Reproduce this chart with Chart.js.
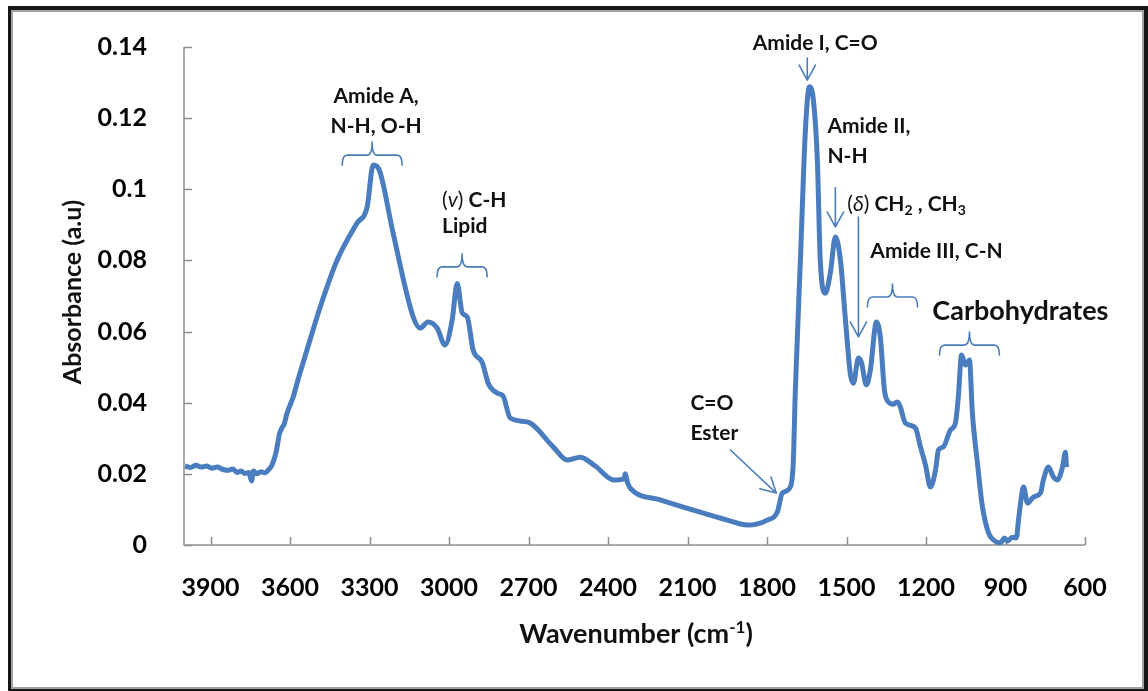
<!DOCTYPE html>
<html>
<head>
<meta charset="utf-8">
<script src="https://cdn.jsdelivr.net/npm/chart.js@4.4.1/dist/chart.umd.min.js"></script>
<style>
  html, body { margin: 0; padding: 0; background: #fff; }
  #wrap { position: relative; width: 1148px; height: 691px; overflow: hidden; }
  #frame {
    position: absolute; left: 8px; top: 6px; width: 1140px; height: 685px;
    box-sizing: border-box; border-style: solid; border-color: #161616;
    border-width: 4px 4px 2px 3px; box-shadow: inset 0 0 0 2px #a3a3a3;
  }
  #c { position: absolute; left: 0; top: 0; }
</style>
</head>
<body>
<div id="wrap"><div id="frame"></div><canvas id="c" width="1148" height="691"></canvas></div>
<script>
// FTIR spectrum: wavenumber (cm-1) and absorbance (a.u)
const wavenumbers = [
  3996, 3975, 3955, 3935, 3915, 3895, 3875, 3855, 3835, 3815, 3800, 3785, 3770, 3755, 3745, 3738,
  3725, 3710, 3695, 3683, 3668, 3652, 3640, 3630, 3622, 3611, 3588, 3570, 3536, 3486, 3422, 3347,
  3309, 3286, 3262, 3211, 3135, 3109, 3079, 3045, 3015, 2988, 2969, 2950, 2931, 2909, 2875, 2852,
  2818, 2796, 2769, 2705, 2607, 2554, 2505, 2448, 2380, 2339, 2335, 2327, 2316, 2203, 2078, 1950,
  1874, 1799, 1761, 1742, 1712, 1701, 1693, 1674, 1655, 1640, 1625, 1610, 1599, 1580, 1561, 1542,
  1523, 1504, 1485, 1474, 1455, 1444, 1425, 1410, 1387, 1372, 1357, 1342, 1323, 1308, 1297, 1278,
  1240, 1221, 1202, 1183, 1164, 1153, 1134, 1108, 1089, 1078, 1066, 1051, 1036, 1025, 1006, 987,
  964, 945, 919, 904, 893, 874, 859, 851, 836, 832, 817, 794, 768, 757, 738, 719,
  704, 685, 674, 670
];
const absorbance = [
  0.0222, 0.0218, 0.0224, 0.0219, 0.0222, 0.0216, 0.0219, 0.0213, 0.0210, 0.0214, 0.0204, 0.0208, 0.0201, 0.0204, 0.0180, 0.0208,
  0.0200, 0.0206, 0.0203, 0.0210, 0.0225, 0.0262, 0.0312, 0.0330, 0.0340, 0.0371, 0.0416, 0.0464, 0.0548, 0.0669, 0.0801, 0.0905,
  0.0950, 0.1068, 0.1052, 0.0877, 0.0641, 0.0610, 0.0627, 0.0610, 0.0562, 0.0633, 0.0735, 0.0652, 0.0641, 0.0548, 0.0514, 0.0455,
  0.0427, 0.0419, 0.0357, 0.0346, 0.0276, 0.0239, 0.0247, 0.0222, 0.0183, 0.0186, 0.0200, 0.0177, 0.0160, 0.0127, 0.0098, 0.0070,
  0.0056, 0.0070, 0.0093, 0.0146, 0.0163, 0.0231, 0.0436, 0.0801, 0.1167, 0.1288, 0.1251, 0.1082, 0.0801, 0.0708, 0.0765, 0.0866,
  0.0801, 0.0633, 0.0478, 0.0455, 0.0526, 0.0514, 0.0450, 0.0492, 0.0627, 0.0582, 0.0436, 0.0402, 0.0396, 0.0402, 0.0388, 0.0343,
  0.0329, 0.0276, 0.0225, 0.0163, 0.0211, 0.0267, 0.0276, 0.0323, 0.0343, 0.0416, 0.0534, 0.0506, 0.0520, 0.0371, 0.0231, 0.0107,
  0.0034, 0.0014, 0.0006, 0.0020, 0.0011, 0.0022, 0.0020, 0.0070, 0.0155, 0.0163, 0.0118, 0.0135, 0.0146, 0.0183, 0.0219, 0.0191,
  0.0183, 0.0219, 0.0261, 0.0219
];
const xTickValues = [3900, 3600, 3300, 3000, 2700, 2400, 2100, 1800, 1500, 1200, 900, 600];
const yTickValues = [0, 0.02, 0.04, 0.06, 0.08, 0.1, 0.12, 0.14];

const LINE_BLUE = '#4a7dbf';
const NOTE_BLUE = '#4a7ebb';
const FONT = 'Lato, "Open Sans", sans-serif';

// Band assignments: text anchored in (wavenumber, absorbance) space
const notes = [
  { w: 3275, v: 0.1243, align: 'center', parts: [['Amide A,', 'b']] },
  { w: 3275, v: 0.1158, align: 'center', parts: [['N-H, O-H', 'b']] },
  { w: 3026, v: 0.0950, align: 'left', parts: [['(', 'n'], ['v', 'i'], [')', 'n'], [' C-H', 'b']] },
  { w: 3026, v: 0.0877, align: 'left', parts: [['Lipid', 'b']] },
  { w: 1618, v: 0.1392, align: 'center', parts: [['Amide I, C=O', 'b']] },
  { w: 1572, v: 0.1158, align: 'left', parts: [['Amide II,', 'b']] },
  { w: 1572, v: 0.1074, align: 'left', parts: [['N-H', 'b']] },
  { w: 1497, v: 0.0939, align: 'left', parts: [['(', 'n'], ['δ', 'i'], [')', 'n'], [' CH', 'b'], ['2', 'bs'], [' , CH', 'b'], ['3', 'bs']] },
  { w: 1410, v: 0.0807, align: 'left', parts: [['Amide III, C-N', 'b']] },
  { w: 1176, v: 0.0633, align: 'left', size: 27, parts: [['Carbohydrates', 'b']] },
  { w: 2089, v: 0.0380, align: 'left', parts: [['C=O', 'b']] },
  { w: 2089, v: 0.0295, align: 'left', parts: [['Ester', 'b']] }
];
const braces = [
  { from: 3403, to: 3177, v: 0.1096 },
  { from: 3045, to: 2856, v: 0.0782 },
  { from: 1421, to: 1232, v: 0.0697 },
  { from: 1149, to: 923, v: 0.0562 }
];
const arrows = [
  { w1: 1648, v1: 0.1369, w2: 1648, v2: 0.1307 },
  { w1: 1542, v1: 0.1004, w2: 1542, v2: 0.0894 },
  { w1: 1455, v1: 0.0922, w2: 1455, v2: 0.0585 },
  { w1: 1938, v1: 0.0267, w2: 1765, v2: 0.0146 }
];

function drawRich(ctx, parts, x, y, align, size) {
  const fontFor = s => ({
    b: `bold ${size}px ${FONT}`,
    n: `${size}px ${FONT}`,
    i: `italic ${size}px ${FONT}`,
    bs: `bold ${Math.round(size * 0.66)}px ${FONT}`
  })[s];
  let total = 0;
  parts.forEach(p => { ctx.font = fontFor(p[1]); total += ctx.measureText(p[0]).width; });
  let cx = align === 'center' ? x - total / 2 : x;
  ctx.textAlign = 'left';
  ctx.textBaseline = 'alphabetic';
  parts.forEach(p => {
    ctx.font = fontFor(p[1]);
    const dy = p[1] === 'bs' ? size * 0.2 : 0;
    ctx.fillText(p[0], cx, y + dy);
    cx += ctx.measureText(p[0]).width;
  });
  return total;
}

// Axis lines with inward tick marks
const axesPlugin = {
  id: 'axesInside',
  beforeDatasetsDraw(chart) {
    const { ctx, chartArea: a, scales: { x, y } } = chart;
    ctx.save();
    ctx.strokeStyle = '#8e8e8e';
    ctx.lineWidth = 1.5;
    ctx.beginPath();
    ctx.moveTo(a.left, a.top);
    ctx.lineTo(a.left, a.bottom);
    ctx.lineTo(a.right, a.bottom);
    yTickValues.forEach(v => {
      const py = Math.round(y.getPixelForValue(v)) + 0.5;
      ctx.moveTo(a.left, py); ctx.lineTo(a.left + 8, py);
    });
    xTickValues.forEach(v => {
      const px = Math.round(x.getPixelForValue(v)) + 0.5;
      ctx.moveTo(px, a.bottom); ctx.lineTo(px, a.bottom - 8);
    });
    ctx.stroke();
    ctx.restore();
  }
};

// Axis titles and band assignments
const notesPlugin = {
  id: 'bandNotes',
  afterDraw(chart) {
    const { ctx, chartArea: a, scales: { x, y } } = chart;
    ctx.save();
    ctx.fillStyle = '#111';

    // y title
    ctx.save();
    ctx.translate(73, 292);
    ctx.rotate(-Math.PI / 2);
    ctx.font = `bold 25px ${FONT}`;
    ctx.textAlign = 'center';
    ctx.textBaseline = 'middle';
    ctx.fillText('Absorbance (a.u)', 0, 0);
    ctx.restore();

    // x title with superscript
    {
      const size = 27;
      const main = 'Wavenumber (cm';
      const sup = '-1';
      ctx.font = `bold ${size}px ${FONT}`;
      const w1 = ctx.measureText(main).width;
      const wc = ctx.measureText(')').width;
      ctx.font = `bold ${Math.round(size * 0.62)}px ${FONT}`;
      const w2 = ctx.measureText(sup).width;
      let sx = 636 - (w1 + w2 + wc) / 2;
      const by = 643;
      ctx.textAlign = 'left';
      ctx.textBaseline = 'alphabetic';
      ctx.font = `bold ${size}px ${FONT}`;
      ctx.fillText(main, sx, by);
      ctx.font = `bold ${Math.round(size * 0.62)}px ${FONT}`;
      ctx.fillText(sup, sx + w1, by - size * 0.38);
      ctx.font = `bold ${size}px ${FONT}`;
      ctx.fillText(')', sx + w1 + w2, by);
    }

    // text notes
    notes.forEach(n => {
      drawRich(ctx, n.parts, x.getPixelForValue(n.w), y.getPixelForValue(n.v), n.align, n.size || 21);
    });

    ctx.strokeStyle = NOTE_BLUE;
    ctx.lineWidth = 1.6;
    ctx.lineCap = 'round';
    ctx.lineJoin = 'round';

    // curly braces
    braces.forEach(b => {
      const xl = x.getPixelForValue(b.from), xr = x.getPixelForValue(b.to);
      const py = y.getPixelForValue(b.v);
      const xc = (xl + xr) / 2;
      const hook = 10, spike = 13, r = 5;
      ctx.beginPath();
      ctx.moveTo(xl, py + hook);
      ctx.quadraticCurveTo(xl, py, xl + r, py);
      ctx.lineTo(xc - r, py);
      ctx.quadraticCurveTo(xc, py, xc, py - spike);
      ctx.quadraticCurveTo(xc, py, xc + r, py);
      ctx.lineTo(xr - r, py);
      ctx.quadraticCurveTo(xr, py, xr, py + hook);
      ctx.stroke();
    });

    // arrows with open heads
    arrows.forEach(ar => {
      const x1 = x.getPixelForValue(ar.w1), y1 = y.getPixelForValue(ar.v1);
      const x2 = x.getPixelForValue(ar.w2), y2 = y.getPixelForValue(ar.v2);
      const ang = Math.atan2(y2 - y1, x2 - x1);
      const len = 17, spread = 0.5;
      ctx.beginPath();
      ctx.moveTo(x1, y1); ctx.lineTo(x2, y2);
      ctx.moveTo(x2 - len * Math.cos(ang - spread), y2 - len * Math.sin(ang - spread));
      ctx.lineTo(x2, y2);
      ctx.lineTo(x2 - len * Math.cos(ang + spread), y2 - len * Math.sin(ang + spread));
      ctx.stroke();
    });
    ctx.restore();
  }
};

const tickFont = { family: FONT, weight: 'bold', size: 25 };

new Chart(document.getElementById('c'), {
  type: 'line',
  data: {
    datasets: [{
      data: wavenumbers.map((w, i) => ({ x: w, y: absorbance[i] })),
      borderColor: LINE_BLUE,
      borderWidth: 5,
      pointRadius: 0,
      fill: false,
      cubicInterpolationMode: 'monotone',
      clip: false
    }]
  },
  options: {
    responsive: false,
    animation: false,
    events: [],
    layout: { padding: { top: 47, right: 63, left: 0, bottom: 0 } },
    plugins: { legend: { display: false }, tooltip: { enabled: false } },
    scales: {
      x: {
        type: 'linear',
        reverse: true,
        min: 600,
        max: 4000,
        afterBuildTicks: s => { s.ticks = xTickValues.map(v => ({ value: v })); },
        afterFit: s => { s.height = 146; },
        grid: { display: false },
        border: { display: false },
        ticks: { font: tickFont, color: '#000', padding: 20, maxRotation: 0, autoSkip: false, callback: v => String(v) }
      },
      y: {
        type: 'linear',
        min: 0,
        max: 0.14,
        afterBuildTicks: s => { s.ticks = yTickValues.map(v => ({ value: v })); },
        afterFit: s => { s.width = 184; },
        grid: { display: false },
        border: { display: false },
        ticks: { font: tickFont, color: '#000', padding: 29, callback: v => String(+v.toFixed(2)) }
      }
    }
  },
  plugins: [axesPlugin, notesPlugin]
});
</script>
</body>
</html>
